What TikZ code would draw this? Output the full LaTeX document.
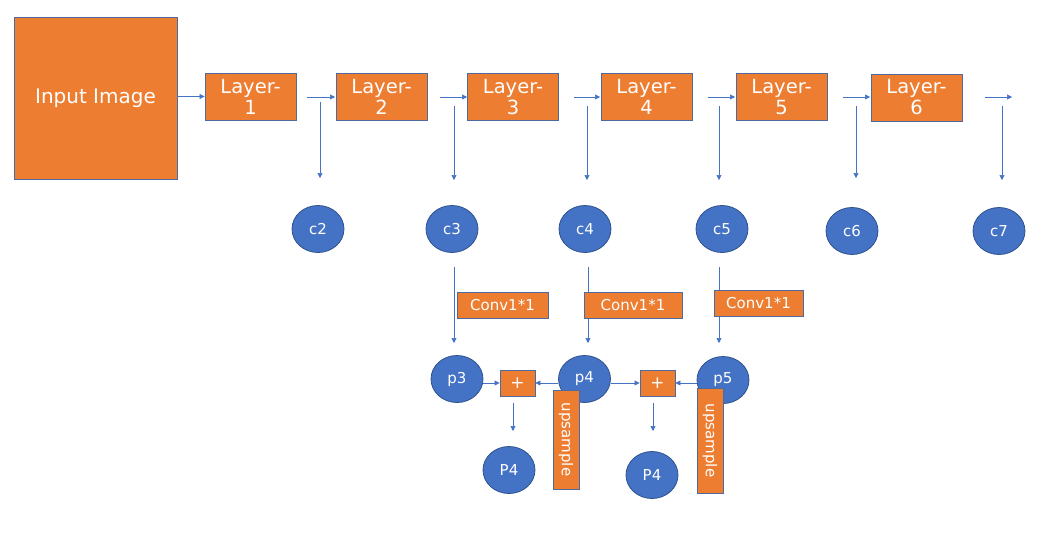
\documentclass[tikz,border=0pt]{standalone}
\usepackage{fontspec}
\setmainfont{DejaVu Sans}
\usetikzlibrary{arrows.meta,shapes.geometric}
\definecolor{org}{HTML}{ED7D31}
\definecolor{blu}{HTML}{4472C4}
\definecolor{edg}{HTML}{4F6A9E}
\definecolor{cedg}{HTML}{2F528F}
\tikzset{
  box/.style={draw=edg, fill=org, line width=0.9pt, text=white, inner sep=0pt, align=center},
  layerbox/.style={box, minimum width=91pt, minimum height=47pt, font=\fontsize{19.5}{21}\selectfont},
  convbox/.style={box, minimum width=91pt, minimum height=26pt, font=\fontsize{15}{17}\selectfont},
  plusbox/.style={box, minimum width=35pt, minimum height=26pt, font=\fontsize{17}{19}\selectfont},
  upbox/.style={box, minimum width=26pt, minimum height=100pt},
  circ/.style={ellipse, draw=cedg, fill=blu, line width=0.8pt, text=white, minimum width=52pt, minimum height=47pt, inner sep=0pt, font=\fontsize{15}{17}\selectfont},
  arr/.style={draw=blu, line width=0.6pt, -{Triangle[length=5pt,width=5pt]}}
}
\begin{document}
\begin{tikzpicture}[x=1pt,y=-1pt]
\useasboundingbox (0,0) rectangle (1050,550);
% main boxes
\node[box, minimum width=163pt, minimum height=162pt, font=\fontsize{20}{22}\selectfont] (in) at (95.5,98) {Input Image};
\node[layerbox] (l1) at (250.5,96.5) {Layer-\\1};
\node[layerbox] (l2) at (381.5,96.5) {Layer-\\2};
\node[layerbox] (l3) at (513,97) {Layer-\\3};
\node[layerbox] (l4) at (646.5,97) {Layer-\\4};
\node[layerbox] (l5) at (781.5,97) {Layer-\\5};
\node[layerbox] (l6) at (916.5,97.5) {Layer-\\6};
% horizontal arrow coordinates
\coordinate (h1s) at (307,97); \coordinate (h1e) at (335,97);
\coordinate (h2s) at (440,97); \coordinate (h2e) at (467,97);
\coordinate (h3s) at (574,97); \coordinate (h3e) at (600,97);
\coordinate (h4s) at (708,97); \coordinate (h4e) at (735,97);
\coordinate (h5s) at (843,97); \coordinate (h5e) at (870,97);
\coordinate (h6s) at (985,97); \coordinate (h6e) at (1012,97);
\draw[arr] (in.east |- l1.west) -- (l1.west);
\draw[arr] (h1s) -- (h1e);
\draw[arr] (h2s) -- (h2e);
\draw[arr] (h3s) -- (h3e);
\draw[arr] (h4s) -- (h4e);
\draw[arr] (h5s) -- (h5e);
\draw[arr] (h6s) -- (h6e);
% vertical arrows to c
\coordinate (v2s) at (320,102); \coordinate (v2e) at (320,178);
\coordinate (v3s) at (454,106); \coordinate (v3e) at (454,180);
\coordinate (v4s) at (587,106); \coordinate (v4e) at (587,180);
\coordinate (v5s) at (719,106); \coordinate (v5e) at (719,180);
\coordinate (v6s) at (856,106); \coordinate (v6e) at (856,178);
\coordinate (v7s) at (1002,106); \coordinate (v7e) at (1002,180);
\foreach \i in {2,...,7} {\draw[arr] (v\i s) -- (v\i e);}
% c circles
\node[circ] (c2) at (318,229) {c2};
\node[circ] (c3) at (452,229) {c3};
\node[circ] (c4) at (585,229) {c4};
\node[circ] (c5) at (722,229) {c5};
\node[circ] (c6) at (852,231) {c6};
\node[circ] (c7) at (999,231) {c7};
% arrows c -> p
\coordinate (w3s) at (454,267); \coordinate (w3e) at (454,343);
\coordinate (w4s) at (588,267); \coordinate (w4e) at (588,343);
\coordinate (w5s) at (719,267); \coordinate (w5e) at (719,343);
\draw[arr] (w3s) -- (w3e);
\draw[arr] (w4s) -- (w4e);
\draw[arr] (w5s) -- (w5e);
% conv boxes
\node[convbox, minimum width=91pt] (k3) at (502.5,305) {Conv1*1};
\node[convbox, minimum width=98pt] (k4) at (633,305) {Conv1*1};
\node[convbox, minimum width=89pt] (k5) at (758.5,303) {Conv1*1};
% p circles
\node[circ] (p3) at (457,379) {p3};
\node[circ] (p4) at (584.5,379) {p4};
\node[circ] (p5) at (723,380) {p5};
% plus boxes
\node[plusbox] (s1) at (517.5,383) {+};
\node[plusbox] (s2) at (657.5,383) {+};
\draw[arr] (p3.east |- s1.west) -- (s1.west);
\draw[arr] (p4.west |- s1.east) -- (s1.east);
\draw[arr] (p4.east |- s2.west) -- (s2.west);
\draw[arr] (p5.west |- s2.east) -- (s2.east);
% upsample boxes
\node[upbox, minimum height=99pt] (u1) at (566,439.5) {};
\node[rotate=-90, text=white, font=\fontsize{15}{17}\selectfont] at (u1.center) {upsample};
\node[upbox, minimum height=105pt] (u2) at (710,440.5) {};
\node[rotate=-90, text=white, font=\fontsize{15}{17}\selectfont] at (u2.center) {upsample};
% outputs
\node[circ] (q1) at (509,470) {P4};
\node[circ] (q2) at (652,475) {P4};
\coordinate (o1e) at (513,431); \coordinate (o2e) at (653,431);
\draw[arr] ([yshift=-7pt]s1.south -| o1e) -- (o1e);
\draw[arr] ([yshift=-7pt]s2.south -| o2e) -- (o2e);
\end{tikzpicture}
\end{document}
